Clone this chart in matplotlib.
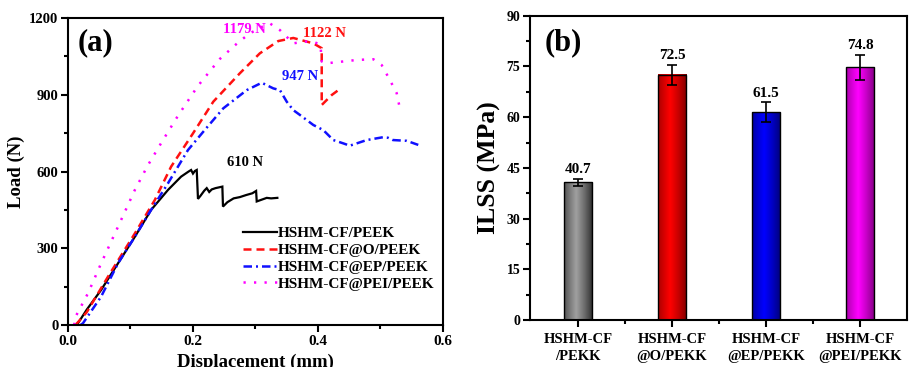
import numpy as np
import matplotlib
matplotlib.use("Agg")
import matplotlib.pyplot as plt
from matplotlib.colors import LinearSegmentedColormap
from matplotlib.ticker import MultipleLocator

plt.rcParams['font.family'] = ['Liberation Serif', 'DejaVu Serif']
plt.rcParams['font.weight'] = 'bold'

# ---------------- data: panel (a) load-displacement ----------------
x_cf = [0.012, 0.016, 0.03, 0.053, 0.08, 0.107, 0.133, 0.16, 0.181, 0.193, 0.197, 0.200, 0.203,
        0.206, 0.208, 0.212, 0.218, 0.222, 0.226, 0.230, 0.236, 0.247, 0.248, 0.255, 0.265, 0.275,
        0.285, 0.295, 0.301, 0.302, 0.31, 0.318, 0.325, 0.335]
y_cf = [0, 7, 60, 137, 241, 345, 450, 528, 580, 600, 606, 592, 602, 606, 493, 505, 525, 535,
        520, 530, 535, 541, 463, 480, 495, 500, 508, 515, 524, 483, 490, 497, 495, 497]

x_o = [0.012, 0.03, 0.064, 0.107, 0.139, 0.165, 0.2, 0.2325, 0.275, 0.307, 0.3365, 0.3605,
       0.3925, 0.406, 0.406, 0.422, 0.4325]
y_o = [0, 50, 189, 358, 489, 619, 749, 873, 984, 1062, 1110, 1122, 1101, 1082, 860, 899, 918]

x_ep = [0.02, 0.024, 0.053, 0.08, 0.107, 0.133, 0.16, 0.192, 0.2187, 0.2485, 0.2859, 0.31,
        0.3285, 0.3392, 0.35, 0.3605, 0.3712, 0.3925, 0.4085, 0.4245, 0.4405, 0.451, 0.478,
        0.504, 0.512, 0.52, 0.542, 0.5605]
y_ep = [0, 7, 111, 241, 345, 450, 554, 684, 762, 847, 918, 947, 925, 918, 873, 840, 821, 782,
        762, 723, 710, 701, 723, 734, 732, 723, 720, 704]

x_pei = [0.01, 0.0107, 0.032, 0.053, 0.08, 0.107, 0.128, 0.15, 0.176, 0.208, 0.243, 0.2725,
         0.291, 0.31, 0.323, 0.339, 0.3605, 0.3792, 0.395, 0.404, 0.406, 0.4139, 0.4619, 0.4885,
         0.502, 0.515, 0.526, 0.531]
y_pei = [0, 26, 124, 241, 384, 528, 625, 715, 818, 935, 1040, 1105, 1140, 1165, 1179, 1153,
         1101, 1108, 1105, 1095, 1030, 1023, 1036, 1039, 1016, 958, 906, 847]

series_labels = ['HSHM-CF/PEEK', 'HSHM-CF@O/PEEK', 'HSHM-CF@EP/PEEK', 'HSHM-CF@PEI/PEEK']
peak_labels = ['610 N', '1122 N', '947 N', '1179 N']

# ---------------- data: panel (b) ILSS ----------------
categories = ['HSHM-CF\n/PEKK', 'HSHM-CF\n@O/PEKK', 'HSHM-CF\n@EP/PEKK', 'HSHM-CF\n@PEI/PEKK']
ilss = [40.7, 72.5, 61.5, 74.8]
ilss_err = [1.0, 3.0, 2.9, 3.7]

fig = plt.figure(figsize=(9.09, 3.67), dpi=100)

# ================= panel (a) =================
ax1 = fig.add_axes([0.0748, 0.1144, 0.4125, 0.8365])
l1, = ax1.plot(x_cf, y_cf, color='black', lw=1.6, solid_joinstyle='miter')
l2, = ax1.plot(x_o, y_o, color='#ff1010', lw=1.8, linestyle=(0, (3.2, 2.0)))
l3, = ax1.plot(x_ep, y_ep, color='#1010ff', lw=1.8, linestyle=(0, (3.4, 1.6, 0.8, 1.6)))
l4, = ax1.plot(x_pei, y_pei, color='#ff00ff', lw=1.8, linestyle=(0, (0.9, 3.3)))

ax1.set_xlim(0, 0.6)
ax1.set_ylim(0, 1200)
ax1.xaxis.set_major_locator(MultipleLocator(0.2))
ax1.xaxis.set_minor_locator(MultipleLocator(0.1))
ax1.yaxis.set_major_locator(MultipleLocator(300))
ax1.yaxis.set_minor_locator(MultipleLocator(150))
ax1.xaxis.set_major_formatter(matplotlib.ticker.FormatStrFormatter('%.1f'))
ax1.set_xlabel('Displacement (mm)', fontsize=13.5, fontweight='bold', labelpad=4)
ax1.set_ylabel('Load (N)', fontsize=13.5, fontweight='bold', labelpad=3)

ax1.text(0.027, 0.918, '(a)', transform=ax1.transAxes, fontsize=22, fontweight='bold',
         va='center', ha='left')

ann_xy = [(0.283, 637), (0.411, 1141), (0.371, 973), (0.283, 1155)]
ann_col = ['black', '#ff1010', '#1010ff', '#ff00ff']
for lab, xy, c in zip(peak_labels, ann_xy, ann_col):
    ax1.text(xy[0], xy[1], lab, color=c, fontsize=10.5, fontweight='bold', ha='center',
             va='center')

leg = ax1.legend([l1, l2, l3, l4], series_labels, loc='upper left',
                 bbox_to_anchor=(0.468, 0.32), frameon=False, fontsize=11,
                 handlelength=2.2, handletextpad=0.05, labelspacing=0.2,
                 borderaxespad=0, borderpad=0)
for t in leg.get_texts():
    t.set_fontweight('bold')

# ================= panel (b) =================
ax2 = fig.add_axes([0.583, 0.128, 0.415, 0.829])
pos = np.arange(1, len(ilss) + 1)
w = 0.3
grads = [('#262626', '#a0a0a0'), ('#7a0000', '#ff0000'), ('#000070', '#0000ff'),
         ('#7a007a', '#ff00ff')]
t = np.linspace(0, 1, 64)
prof = np.clip(1 - np.abs(t - 0.42) / 0.58, 0, 1) ** 0.8
for p, v, (dark, light) in zip(pos, ilss, grads):
    cmap = LinearSegmentedColormap.from_list('g', [dark, light])
    ax2.imshow(prof[None, :], cmap=cmap, vmin=0, vmax=1, aspect='auto',
               extent=[p - w / 2, p + w / 2, 0, v], zorder=1, interpolation='bilinear')
ax2.bar(pos, ilss, width=w, facecolor='none', edgecolor='black', linewidth=1.0, zorder=2)
ax2.errorbar(pos, ilss, yerr=ilss_err, fmt='none', ecolor='black', elinewidth=1.2,
             capsize=3.5, capthick=1.2, zorder=3)
for p, v, e in zip(pos, ilss, ilss_err):
    ax2.annotate(f'{v}', (p, v + e), xytext=(0, 2), textcoords='offset points',
                 ha='center', va='bottom', fontsize=11, fontweight='bold')

ax2.set_xlim(0.49, 4.5)
ax2.set_ylim(0, 90)
ax2.set_xticks(pos)
ax2.set_xticklabels(categories, fontsize=11.5, fontweight='bold', linespacing=1.4)
ax2.xaxis.set_minor_locator(matplotlib.ticker.FixedLocator([1.5, 2.5, 3.5]))
ax2.yaxis.set_major_locator(MultipleLocator(15))
ax2.yaxis.set_minor_locator(MultipleLocator(7.5))
ax2.set_ylabel('ILSS (MPa)', fontsize=18.5, fontweight='bold', labelpad=4)
ax2.text(0.04, 0.91, '(b)', transform=ax2.transAxes, fontsize=22, fontweight='bold',
         va='center', ha='left')

for ax in (ax1, ax2):
    for s in ax.spines.values():
        s.set_linewidth(1.5)
    ax.tick_params(which='major', direction='out', length=5, width=1.5, labelsize=10.5,
                   top=False, right=False, pad=2)
    ax.tick_params(which='minor', direction='out', length=3, width=1.5,
                   top=False, right=False)
    for lab in ax.get_yticklabels():
        lab.set_fontweight('bold')
ax1.tick_params(axis='x', labelsize=11)
for lab in ax1.get_xticklabels():
    lab.set_fontweight('bold')
ax2.tick_params(axis='y', labelsize=10)
ax2.tick_params(axis='x', which='major', pad=4)

fig.savefig('out.png', dpi=100)
